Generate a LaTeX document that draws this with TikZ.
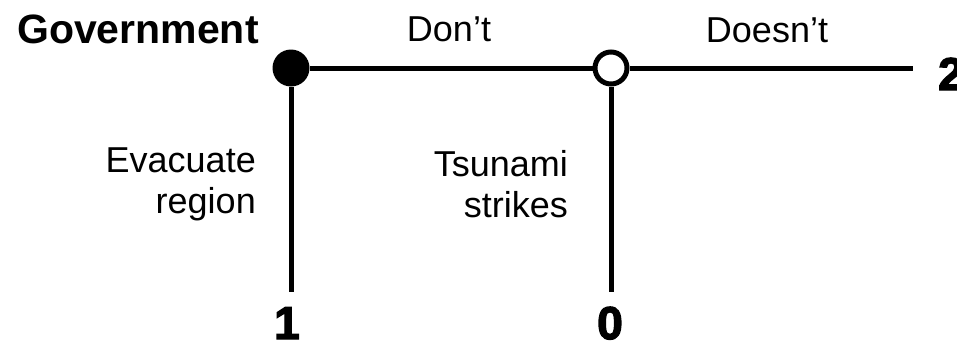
\documentclass[tikz,border=0pt]{standalone}
\usepackage{fontspec}
\setmainfont{Liberation Sans}
\newfontfamily\payofffont[FakeBold=3]{Liberation Sans Bold}
\usetikzlibrary{positioning}

\begin{document}
\begin{tikzpicture}[x=1pt, y=1pt,
  decision/.style={circle, fill=black, minimum size=37pt, inner sep=0pt},
  chance/.style={circle, draw, line width=5pt, fill=white, minimum size=32pt, inner sep=0pt},
  branch/.style={line width=5pt},
  lbl/.style={inner sep=0pt, align=right, font=\fontsize{36}{41}\selectfont},
  payoff/.style={inner sep=0pt, anchor=base, font=\payofffont\fontsize{46}{46}\selectfont}
]
\useasboundingbox (0,0) rectangle (957,341);

% player name
\node[anchor=base west, inner sep=0pt, font=\bfseries\fontsize{41}{41}\selectfont] (player) at (17,298) {Government};

% the two moves
\node[decision] (gov) at (291,273) {};
\node[chance] (nature) at (611,273) {};
\coordinate (e1) at (291,49);
\coordinate (e0) at (611,49);
\coordinate (e2) at (913,273);

\draw[branch] (gov) -- (nature);
\draw[branch] (nature) -- (e2);
\draw[branch] (gov) -- (e1);
\draw[branch] (nature) -- (e0);

% move labels
\node[lbl, anchor=base] (dont) at (449,300) {Don’t};
\node[lbl, anchor=base] (doesnt) at (767,299) {Doesn’t};
\node[lbl, anchor=base east] (evac) at (256,128) {Evacuate\\region};
\node[lbl, anchor=base east] (tsunami) at (568,124) {Tsunami\\strikes};

% payoffs
\node[payoff] (p1) at (287,2) {1};
\node[payoff] (p0) at (610,2) {0};
\node[payoff] (p2) at (951,251) {2};
\end{tikzpicture}
\end{document}
